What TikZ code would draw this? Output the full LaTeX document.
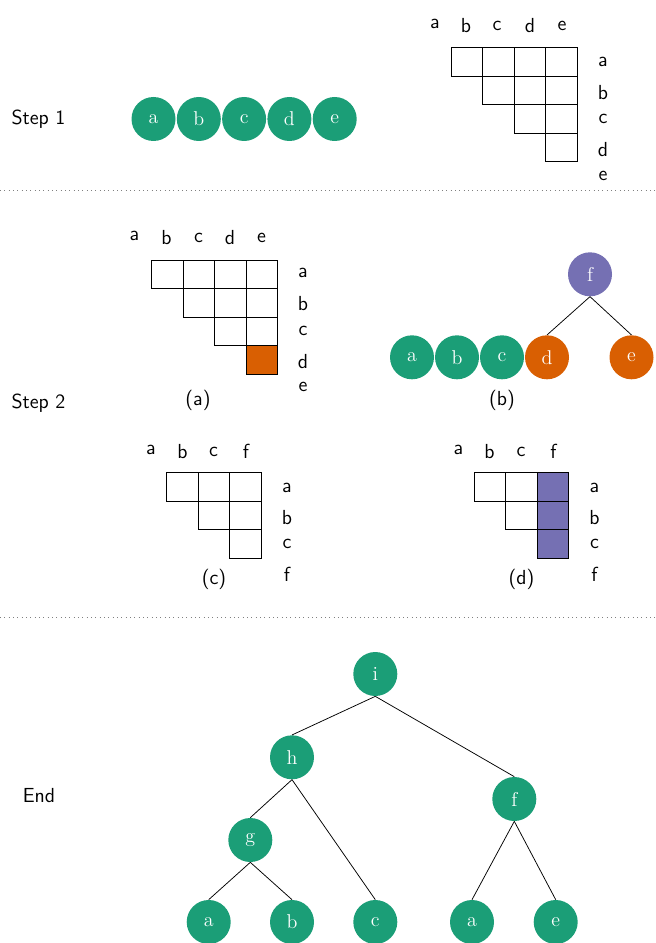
\documentclass[tikz,border=0pt]{standalone}
\definecolor{dteal}{HTML}{1B9E77}
\definecolor{dorange}{HTML}{D95F02}
\definecolor{dpurple}{HTML}{7570B3}
\begin{document}
\begin{tikzpicture}[x=0.6pt,y=-0.6pt,
  ball/.style={circle, fill=dteal, draw=none, minimum size=26.4pt, inner sep=0pt, text=white, font=\rmfamily\fontsize{12}{14}\selectfont},
  oball/.style={ball, fill=dorange},
  pball/.style={ball, fill=dpurple},
  lbl/.style={font=\sffamily\fontsize{12.2}{14}\selectfont, inner sep=0pt},
  cellbox/.style={draw=black, line width=0.5pt},
  treeedge/.style={draw=black, line width=0.45pt},
  sep/.style={draw=gray, dotted, line width=0.6pt}]
\useasboundingbox (0,0) rectangle (655,943);

% separators
\coordinate (s1l) at (0,190.5); \coordinate (s1r) at (655,190.5);
\coordinate (s2l) at (0,617.5); \coordinate (s2r) at (655,617.5);
\draw[sep] (s1l) -- (s1r);
\draw[sep] (s2l) -- (s2r);

% ---------- Step 1 ----------
\node[lbl] (st1) at (38.5,119) {Step 1};
\foreach \n/\k in {a/0,b/1,c/2,d/3,e/4}
  \node[ball] (s1\n) at ({153.5+45.3*\k},119) {\n};

\foreach \r in {0,...,3} \foreach \c in {\r,...,3}
  \draw[cellbox] ({451+31.6*\c},{47.5+28.5*\r}) rectangle ++(31.6,28.5);
\node[lbl] (m1ca) at (435,24) {a};
\foreach \n/\x in {b/466,c/497,d/530,e/562}
  \node[lbl] (m1c\n) at (\x,26) {\n};
\foreach \n/\y in {a/61.5,b/93,c/118.5,d/150,e/175.5}
  \node[lbl] (m1r\n) at (603,\y) {\n};

% ---------- Step 2 ----------
\node[lbl] (st2) at (38.5,403) {Step 2};

% (a)
\foreach \r in {0,...,3} \foreach \c in {\r,...,3}
  \draw[cellbox] ({151.5+31.6*\c},{260+28.5*\r}) rectangle ++(31.6,28.5);
\fill[dorange] ({151.5+31.6*3},{260+28.5*3}) rectangle ++(31.6,28.5);
\draw[cellbox] ({151.5+31.6*3},{260+28.5*3}) rectangle ++(31.6,28.5);
\node[lbl] (m2ca) at (134.5,235.5) {a};
\foreach \n/\x in {b/166.5,c/198.5,d/230,e/261.5}
  \node[lbl] (m2c\n) at (\x,237.5) {\n};
\foreach \n/\y in {a/273,b/304,c/330.5,d/361.5,e/387}
  \node[lbl] (m2r\n) at (303,\y) {\n};
\node[lbl] (capa) at (198,400) {(a)};

% (b)
\foreach \n/\x in {a/412,b/457,c/502}
  \node[ball] (b\n) at (\x,357.3) {\n};
\node[oball] (bd) at (547,357.3) {d};
\node[oball] (be) at (631.5,357.3) {e};
\node[pball] (bf) at (590,274.3) {f};
\draw[treeedge] (bf.south) -- (bd.north);
\draw[treeedge] (bf.south) -- (be.north);
\node[lbl] (capb) at (502,400) {(b)};

% (c)
\foreach \r in {0,...,2} \foreach \c in {\r,...,2}
  \draw[cellbox] ({166.7+31.6*\c},{472.5+28.5*\r}) rectangle ++(31.6,28.5);
\node[lbl] (m3ca) at (151,450) {a};
\foreach \n/\x in {b/182.5,c/213.5,f/246}
  \node[lbl] (m3c\n) at (\x,451.5) {\n};
\foreach \n/\y in {a/487.5,b/517.5,c/543.5,f/574}
  \node[lbl] (m3r\n) at (287,\y) {\n};
\node[lbl] (capc) at (214,579) {(c)};

% (d)
\foreach \r in {0,...,2} \foreach \c in {\r,...,2}
  \draw[cellbox] ({474+31.6*\c},{472.5+28.5*\r}) rectangle ++(31.6,28.5);
\foreach \r in {0,...,2}
  \draw[cellbox, fill=dpurple] ({474+31.6*2},{472.5+28.5*\r}) rectangle ++(31.6,28.5);
\node[lbl] (m4ca) at (458.5,450) {a};
\foreach \n/\x in {b/489.5,c/521,f/553.5}
  \node[lbl] (m4c\n) at (\x,451.5) {\n};
\foreach \n/\y in {a/487.5,b/517.5,c/543.5,f/574}
  \node[lbl] (m4r\n) at (594.5,\y) {\n};
\node[lbl] (capd) at (521.5,579) {(d)};

% ---------- End ----------
\node[lbl] (st3) at (39,796) {End};
\node[ball] (ti) at (375.3,674) {i};
\node[ball] (th) at (292,757.3) {h};
\node[ball] (tf) at (514.3,799) {f};
\node[ball] (tg) at (250.3,840) {g};
\node[ball] (ta) at (208.7,922) {a};
\node[ball] (tb) at (292,922) {b};
\node[ball] (tc) at (375.3,922) {c};
\node[ball] (ta2) at (472,922) {a};
\node[ball] (te) at (555.7,922) {e};
\draw[treeedge] (ti.south) -- (th.north);
\draw[treeedge] (ti.south) -- (tf.north);
\draw[treeedge] (th.south) -- (tg.north);
\draw[treeedge] (th.south) -- (tc.north);
\draw[treeedge] (tg.south) -- (ta.north);
\draw[treeedge] (tg.south) -- (tb.north);
\draw[treeedge] (tf.south) -- (ta2.north);
\draw[treeedge] (tf.south) -- (te.north);
\end{tikzpicture}
\end{document}
